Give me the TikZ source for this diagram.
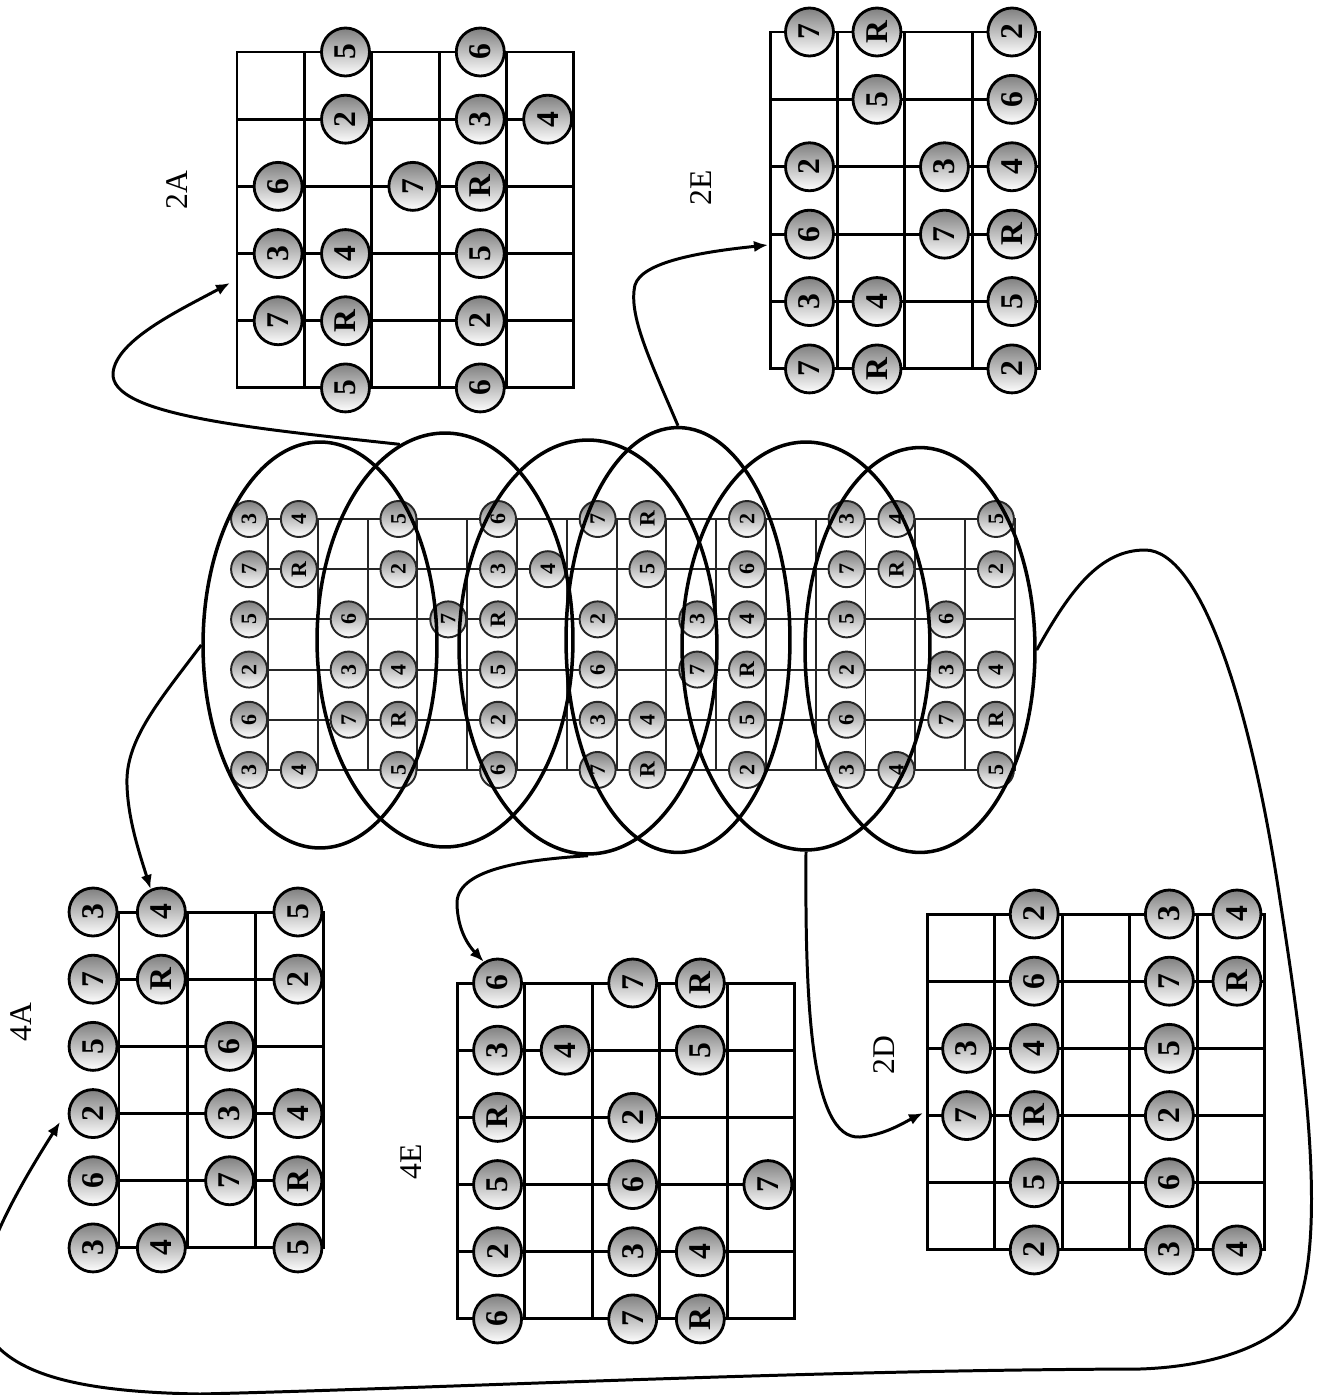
\documentclass[tikz,border=0pt]{standalone}
\usepackage{graphicx}
\usepackage{fontspec}
\setmainfont{Liberation Serif}
\usetikzlibrary{shapes.geometric,arrows.meta}

\tikzset{
  wire/.style={line width=1.7pt,line cap=rect},
  thinwire/.style={line width=1.1pt,draw=black!85,line cap=rect},
  dot/.style={circle,draw,line width=1.6pt,inner sep=0pt,minimum size=0.96cm,
    top color=black!50,bottom color=white,font=\fontsize{18}{18}\selectfont\bfseries},
  smalldot/.style={dot,line width=1.1pt,draw=black!85,minimum size=0.72cm,
    font=\fontsize{12.5}{12.5}\selectfont\bfseries},
  ring/.style={ellipse,draw,line width=2pt,inner sep=0pt},
  boxlabel/.style={rotate=90,font=\fontsize{18}{18}\selectfont},
  jump/.style={line width=1.7pt,-{Latex[length=8pt,width=6.5pt]}}
}

\begin{document}
\begin{tikzpicture}[x=0.02cm,y=-0.02cm]
  \useasboundingbox (0,0) rectangle (1322,1395);
  \clip (0,0) rectangle (1322,1395);

  % whole neck
  \begin{scope}[shift={(268,519)},x=0.996cm,y=-1.004cm]
    \foreach \i in {0,...,15} \draw[thinwire] (\i,0) -- (\i,5);
    \foreach \j in {0,...,5} \draw[thinwire] (0,\j) -- (15,\j);
    \foreach \j/\c/\t in {0/0/3,0/1/4,0/3/5,0/5/6,0/7/7,0/8/R,0/10/2,0/12/3,0/13/4,0/15/5,
        1/0/7,1/1/R,1/3/2,1/5/3,1/6/4,1/8/5,1/10/6,1/12/7,1/13/R,1/15/2,
        2/0/5,2/2/6,2/4/7,2/5/R,2/7/2,2/9/3,2/10/4,2/12/5,2/14/6,
        3/0/2,3/2/3,3/3/4,3/5/5,3/7/6,3/9/7,3/10/R,3/12/2,3/14/3,3/15/4,
        4/0/6,4/2/7,4/3/R,4/5/2,4/7/3,4/8/4,4/10/5,4/12/6,4/14/7,4/15/R,
        5/0/3,5/1/4,5/3/5,5/5/6,5/7/7,5/8/R,5/10/2,5/12/3,5/13/4,5/15/5}
      \node[smalldot] (N-\j-\c) at (\c-0.38,\j) {\rotatebox{90}{\t}};
  \end{scope}

  % position rings
  \node[ring,minimum width=4.68cm,minimum height=8.12cm] (E1) at (320,645) {};
  \node[ring,minimum width=5.12cm,minimum height=8.28cm] (E2) at (445,640) {};
  \node[ring,minimum width=5.16cm,minimum height=8.28cm] (E3) at (588,647) {};
  \node[ring,minimum width=4.48cm,minimum height=8.5cm] (E4) at (678,640) {};
  \node[ring,minimum width=4.96cm,minimum height=8.16cm] (E5) at (806,646) {};
  \node[ring,minimum width=4.6cm,minimum height=8.1cm] (E6) at (920,650) {};

  % 2A
  \begin{scope}[shift={(237,52)},x=1.348cm,y=-1.344cm]
    \foreach \i in {0,...,5} \draw[wire] (\i,0) -- (\i,5);
    \foreach \j in {0,...,5} \draw[wire] (0,\j) -- (5,\j);
    \foreach \j/\c/\t in {0/2/5,0/4/6,1/2/2,1/4/3,1/5/4,2/1/6,2/3/7,2/4/R,
        3/1/3,3/2/4,3/4/5,4/1/7,4/2/R,4/4/2,5/2/5,5/4/6}
      \node[dot] (2A-\j-\c) at (\c-0.39,\j) {\rotatebox{90}{\t}};
  \end{scope}
  \node[boxlabel] (lab2A) at (177,190) {2A};

  % 2E
  \begin{scope}[shift={(770,32)},x=1.35cm,y=-1.348cm]
    \foreach \i in {0,...,4} \draw[wire] (\i,0) -- (\i,5);
    \foreach \j in {0,...,5} \draw[wire] (0,\j) -- (4,\j);
    \foreach \j/\c/\t in {0/1/7,0/2/R,0/4/2,1/2/5,1/4/6,2/1/2,2/3/3,2/4/4,
        3/1/6,3/3/7,3/4/R,4/1/3,4/2/4,4/4/5,5/1/7,5/2/R,5/4/2}
      \node[dot] (2E-\j-\c) at (\c-0.415,\j) {\rotatebox{90}{\t}};
  \end{scope}
  \node[boxlabel] (lab2E) at (701,188) {2E};

  % 4A
  \begin{scope}[shift={(119,912)},x=1.366cm,y=-1.344cm]
    \foreach \i in {0,...,3} \draw[wire] (\i,0) -- (\i,5);
    \foreach \j in {0,...,5} \draw[wire] (0,\j) -- (3,\j);
    \foreach \j/\c/\t in {0/0/3,0/1/4,0/3/5,1/0/7,1/1/R,1/3/2,2/0/5,2/2/6,
        3/0/2,3/2/3,3/3/4,4/0/6,4/2/7,4/3/R,5/0/3,5/1/4,5/3/5}
      \node[dot] (4A-\j-\c) at (\c-0.38,\j) {\rotatebox{90}{\t}};
  \end{scope}
  \node[boxlabel] (lab4A) at (21,1022) {4A};

  % 4E
  \begin{scope}[shift={(457,983)},x=1.352cm,y=-1.344cm]
    \foreach \i in {0,...,5} \draw[wire] (\i,0) -- (\i,5);
    \foreach \j in {0,...,5} \draw[wire] (0,\j) -- (5,\j);
    \foreach \j/\c/\t in {0/1/6,0/3/7,0/4/R,1/1/3,1/2/4,1/4/5,2/1/R,2/3/2,
        3/1/5,3/3/6,3/5/7,4/1/2,4/3/3,4/4/4,5/1/6,5/3/7,5/4/R}
      \node[dot] (4E-\j-\c) at (\c-0.4,\j) {\rotatebox{90}{\t}};
  \end{scope}
  \node[boxlabel] (lab4E) at (411,1162) {4E};

  % 2D
  \begin{scope}[shift={(927,914)},x=1.352cm,y=-1.344cm]
    \foreach \i in {0,...,5} \draw[wire] (\i,0) -- (\i,5);
    \foreach \j in {0,...,5} \draw[wire] (0,\j) -- (5,\j);
    \foreach \j/\c/\t in {0/2/2,0/4/3,0/5/4,1/2/6,1/4/7,1/5/R,2/1/3,2/2/4,
        2/4/5,3/1/7,3/2/R,3/4/2,4/2/5,4/4/6,5/2/2,5/4/3,5/5/4}
      \node[dot] (2D-\j-\c) at (\c-0.414,\j) {\rotatebox{90}{\t}};
  \end{scope}
  \node[boxlabel] (lab2D) at (884,1055) {2D};

  % arrows
  \coordinate (in2A) at (230,283);
  \coordinate (in2E) at (768,245);
  \coordinate (in2D) at (923,1113);
  \coordinate (in4A) at (60,1122);
  \draw[jump] (E2.103) .. controls (250,428) and (110,415) .. (113,373)
    .. controls (116,340) and (180,310) .. (in2A);
  \draw[jump] (E4.north) .. controls (650,360) and (628,315) .. (635,285)
    .. controls (642,262) and (700,252) .. (in2E);
  \draw[jump] (E1.west) .. controls (160,700) and (125,740) .. (127,785)
    .. controls (128,820) and (140,855) .. (4A-0-1.115);
  \draw[jump] (E3.south) .. controls (520,860) and (455,870) .. (457,905)
    .. controls (458,930) and (468,945) .. (4E-0-1.123);
  \draw[jump] (E5.south) .. controls (805,1000) and (810,1140) .. (860,1137)
    .. controls (885,1135) and (905,1122) .. (in2D);
  \draw[jump] (E6.east) .. controls (1070,590) and (1100,550) .. (1145,550)
    .. controls (1200,550) and (1250,700) .. (1280,900)
    .. controls (1305,1060) and (1325,1220) .. (1300,1300)
    .. controls (1292,1335) and (1230,1366) .. (1140,1369)
    .. controls (800,1370) and (450,1388) .. (200,1394)
    .. controls (80,1392) and (10,1375) .. (-15,1330)
    .. controls (-28,1290) and (-15,1240) .. (in4A);
\end{tikzpicture}
\end{document}
